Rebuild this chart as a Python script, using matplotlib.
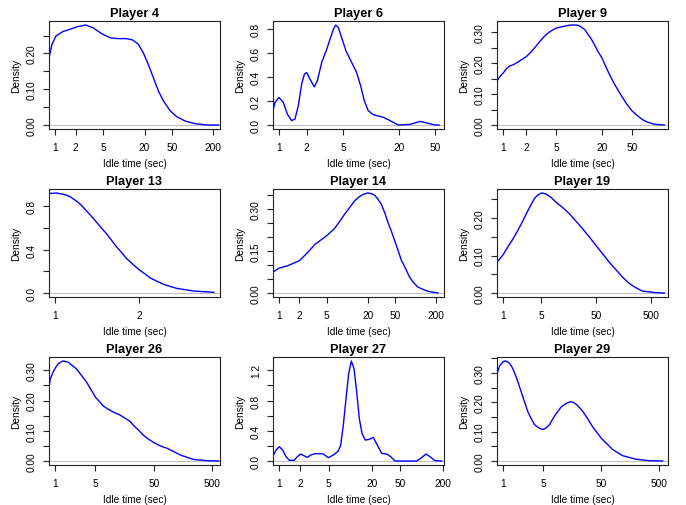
import numpy as np
import matplotlib.pyplot as plt
from matplotlib.ticker import NullLocator

plt.rcParams['font.family'] = ['Liberation Sans', 'DejaVu Sans']

# density curves (x = idle time in sec, y = density)
p4_x = [0.808, 0.904, 1.034, 1.295, 1.62, 2.14, 2.78, 3.55, 4.71, 6.23, 8.25, 10.9,
        13.4, 16.2, 19.1, 22.6, 26.8, 31.7, 37.5, 46.9, 58.7, 77.8, 109, 161, 240]
p4_y = [0.184, 0.226, 0.249, 0.261, 0.267, 0.275, 0.2795, 0.272, 0.256, 0.244, 0.2414,
        0.2414, 0.2377, 0.226, 0.2025, 0.170, 0.1328, 0.0956, 0.0678, 0.040, 0.0232,
        0.0111, 0.0037, 0.0, 0.0]

p6_x = [0.861, 0.905, 1.0, 1.114, 1.232, 1.373, 1.493, 1.622, 1.763, 1.886, 1.999,
        2.173, 2.42, 2.61, 2.91, 3.30, 3.58, 3.90, 4.13, 4.42, 4.80, 5.35, 6.17, 6.98,
        7.72, 8.46, 9.35, 10.6, 13.6, 16.1, 19.8, 26.5, 34.1, 40.3, 49.6, 55.0]
p6_y = [0.12, 0.188, 0.229, 0.188, 0.091, 0.036, 0.050, 0.160, 0.339, 0.422, 0.436,
        0.381, 0.317, 0.367, 0.519, 0.629, 0.712, 0.795, 0.831, 0.809, 0.726, 0.615,
        0.519, 0.436, 0.325, 0.201, 0.118, 0.085, 0.064, 0.036, 0.0, 0.005, 0.030,
        0.017, 0.0, 0.0]

p9_x = [0.825, 0.895, 1.0, 1.095, 1.21, 1.37, 1.56, 2.0, 2.27, 2.59, 2.92, 3.33, 3.76,
        4.29, 5.0, 6.12, 6.89, 7.87, 8.7, 9.64, 10.3, 11.2, 12.1, 13.0, 14.5, 16.0,
        17.7, 20.0, 22.4, 25.2, 28.7, 32.5, 37.1, 41.8, 50.0, 56.6, 62.7, 69.5, 80.6,
        93.5, 103.7, 133.5]
p9_y = [0.1425, 0.156, 0.169, 0.182, 0.191, 0.196, 0.204, 0.221, 0.234, 0.25, 0.266,
        0.282, 0.295, 0.305, 0.314, 0.319, 0.322, 0.324, 0.324, 0.323, 0.32, 0.314,
        0.307, 0.295, 0.279, 0.26, 0.239, 0.218, 0.191, 0.164, 0.137, 0.114, 0.091,
        0.071, 0.046, 0.034, 0.025, 0.017, 0.009, 0.004, 0.002, 0.0]

p13_x = [0.954, 0.973, 1.014, 1.086, 1.132, 1.196, 1.246, 1.298, 1.353, 1.41, 1.47,
         1.53, 1.595, 1.66, 1.733, 1.80, 1.897, 2.0, 2.1, 2.19, 2.31, 2.45, 2.58, 2.73,
         2.92, 3.13, 3.4, 3.69]
p13_y = [0.918, 0.921, 0.924, 0.909, 0.891, 0.849, 0.810, 0.758, 0.707, 0.653, 0.598,
         0.547, 0.486, 0.426, 0.372, 0.32, 0.266, 0.214, 0.175, 0.139, 0.109, 0.079,
         0.060, 0.042, 0.030, 0.018, 0.012, 0.006]

p14_x = [0.817, 1.0, 1.355, 2.0, 2.66, 3.34, 5.0, 5.67, 6.55, 7.76, 9.18, 10.9, 12.9,
         14.9, 17.1, 20.0, 22.5, 25.3, 28.4, 31.7, 35.6, 39.7, 44.6, 50.0, 56.0, 62.7,
         70.4, 82.6, 93.0, 109, 130, 153, 215]
p14_y = [0.0747, 0.089, 0.098, 0.116, 0.146, 0.173, 0.205, 0.217, 0.231, 0.256, 0.282,
         0.306, 0.330, 0.344, 0.353, 0.358, 0.356, 0.350, 0.336, 0.318, 0.288, 0.253,
         0.221, 0.187, 0.152, 0.116, 0.0925, 0.057, 0.039, 0.021, 0.013, 0.006, 0.0]

p19_x = [0.766, 1.0, 1.22, 1.50, 1.86, 2.29, 2.71, 3.25, 3.75, 4.31, 5.0, 5.47, 6.12,
         7.55, 9.3, 12.3, 16.4, 21.7, 28.6, 38.0, 50.0, 66.5, 88.0, 116, 154, 190, 235,
         289, 357, 472, 624, 890]
p19_y = [0.082, 0.103, 0.124, 0.144, 0.168, 0.193, 0.215, 0.237, 0.253, 0.262, 0.267,
         0.266, 0.264, 0.255, 0.242, 0.228, 0.211, 0.191, 0.171, 0.149, 0.127, 0.104,
         0.082, 0.062, 0.042, 0.029, 0.019, 0.0115, 0.005, 0.003, 0.001, 0.0]

p26_x = [0.798, 0.842, 0.936, 1.04, 1.14, 1.25, 1.39, 1.55, 1.70, 1.94, 2.36, 2.88,
         3.52, 4.17, 5.0, 5.81, 6.8, 8.31, 10.1, 12.9, 16.0, 19.6, 22.4, 27.3, 33.3,
         40.7, 50.0, 64.5, 84.3, 110, 142, 186, 242, 315, 410, 650]
p26_y = [0.244, 0.272, 0.294, 0.310, 0.321, 0.327, 0.331, 0.329, 0.327, 0.318, 0.305,
         0.283, 0.261, 0.237, 0.211, 0.197, 0.182, 0.171, 0.162, 0.153, 0.142, 0.131,
         0.118, 0.102, 0.085, 0.072, 0.061, 0.050, 0.042, 0.031, 0.020, 0.012, 0.005,
         0.003, 0.001, 0.0]

p27_x = [0.815, 0.908, 1.011, 1.126, 1.254, 1.395, 1.623, 1.807, 2.01, 2.24, 2.50,
         2.78, 3.20, 3.76, 4.18, 4.92, 5.78, 6.79, 7.32, 7.98, 8.70, 9.48, 10.33,
         11.26, 12.27, 13.37, 14.58, 16.2, 18.3, 21.0, 23.9, 27.5, 32.3, 36.8, 42.3,
         85.1, 100, 115, 131, 154, 191]
p27_y = [0.057, 0.145, 0.189, 0.145, 0.057, 0.009, 0.009, 0.057, 0.092, 0.070, 0.048,
         0.079, 0.097, 0.097, 0.092, 0.044, 0.079, 0.132, 0.211, 0.475, 0.826, 1.156,
         1.323, 1.222, 0.914, 0.563, 0.365, 0.277, 0.286, 0.312, 0.211, 0.101, 0.092,
         0.057, 0.0, 0.0, 0.044, 0.092, 0.057, 0.004, 0.0]

p29_x = [0.788, 0.876, 1.0, 1.07, 1.14, 1.25, 1.39, 1.53, 1.70, 1.86, 2.07, 2.36, 2.70,
         3.08, 3.51, 4.0, 4.68, 5.02, 5.57, 6.36, 7.26, 8.28, 10.1, 12.0, 14.1, 15.1,
         17.1, 19.6, 23.9, 29.1, 35.5, 43.3, 50.0, 64.5, 78.5, 117, 199, 338, 574]
p29_y = [0.297, 0.325, 0.338, 0.341, 0.340, 0.336, 0.325, 0.308, 0.285, 0.263, 0.235,
         0.201, 0.167, 0.144, 0.124, 0.115, 0.108, 0.108, 0.113, 0.124, 0.144, 0.161,
         0.184, 0.195, 0.201, 0.202, 0.198, 0.189, 0.169, 0.144, 0.116, 0.094, 0.077,
         0.056, 0.039, 0.018, 0.006, 0.001, 0.0]

titles = ["Player 4", "Player 6", "Player 9", "Player 13", "Player 14", "Player 19",
          "Player 26", "Player 27", "Player 29"]
xs = [p4_x, p6_x, p9_x, p13_x, p14_x, p19_x, p26_x, p27_x, p29_x]
ys = [p4_y, p6_y, p9_y, p13_y, p14_y, p19_y, p26_y, p27_y, p29_y]

xticks = [[1, 2, 5, 20, 50, 200], [1, 2, 5, 20, 50], [1, 2, 5, 20, 50], [1, 2],
          [1, 2, 5, 20, 50, 200], [1, 5, 50, 500], [1, 5, 50, 500],
          [1, 2, 5, 20, 50, 200], [1, 5, 50, 500]]
xlims = [(0.817, 250), (0.861, 62.1), (0.825, 149.6), (0.954, 3.88), (0.817, 264),
         (0.766, 1043), (0.798, 681), (0.824, 205.7), (0.788, 709)]
# y tick step, label every n-th tick, label format
ystep = [0.05, 0.2, 0.05, 0.2, 0.05, 0.05, 0.05, 0.2, 0.05]
ylab_every = [2, 1, 2, 2, 3, 2, 2, 2, 2]
yfmt = ["%.2f", "%.1f", "%.2f", "%.1f", "%.2f", "%.2f", "%.2f", "%.1f", "%.2f"]

W, H = 686, 506
fig = plt.figure(figsize=(W / 100, H / 100), dpi=100)
lefts = [49, 273, 497]
tops = [22, 190, 358]
pw, ph = 171, 108

for i in range(9):
    r, c = divmod(i, 3)
    ax = fig.add_axes([lefts[c] / W, 1 - (tops[r] + ph) / H, pw / W, ph / H])
    ax.axhline(0, color="#BEBEBE", lw=0.8, zorder=1)
    ax.plot(xs[i], ys[i], color="blue", lw=1.0, zorder=2)
    ax.set_xscale("log")
    ax.set_xlim(*xlims[i])
    ymax = max(ys[i])
    ax.set_ylim(-0.04 * ymax, 1.04 * ymax)

    ax.xaxis.set_minor_locator(NullLocator())
    ax.set_xticks(xticks[i])
    ax.set_xticklabels([str(t) for t in xticks[i]])

    yt = np.arange(0, 1.04 * ymax + 1e-9, ystep[i])
    ax.set_yticks(yt)
    ax.set_yticklabels([yfmt[i] % v if k % ylab_every[i] == 0 else ""
                        for k, v in enumerate(yt)])
    for lab in ax.get_yticklabels():
        lab.set_rotation(90)
        lab.set_va("center")

    ax.tick_params(axis="both", length=4.3, width=0.8, labelsize=7.3, color="#222222")
    ax.tick_params(axis="x", pad=4.8)
    ax.tick_params(axis="y", pad=4.5)
    for s in ax.spines.values():
        s.set_linewidth(0.8)
        s.set_color("#222222")

    ax.set_title(titles[i], fontsize=9.2, fontweight="bold", pad=3.6)
    ax.set_xlabel("Idle time (sec)", fontsize=7.3, labelpad=4.5)
    ax.set_ylabel("Density", fontsize=7.3, labelpad=4)

fig.savefig("out.png", dpi=100)
